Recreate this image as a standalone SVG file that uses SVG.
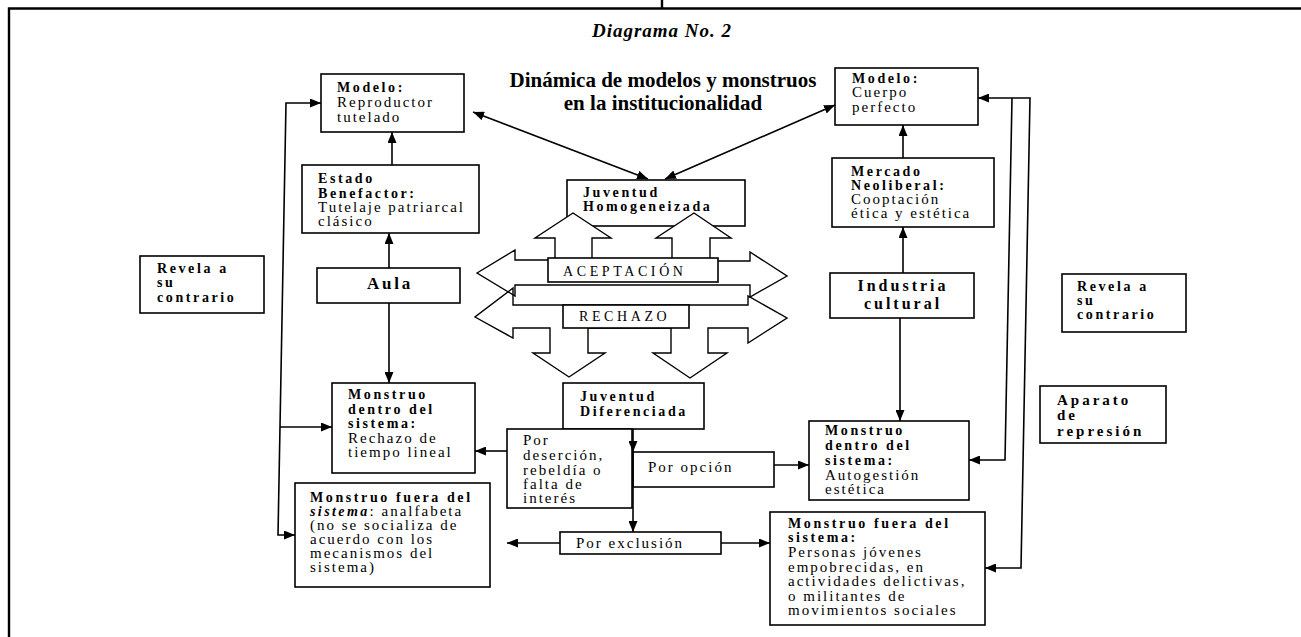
<svg xmlns="http://www.w3.org/2000/svg" width="1301" height="637" viewBox="0 0 1301 637">
<style>
.bg{fill:#fff}
.box{fill:#fff;stroke:#000;stroke-width:1.6}
.frame{fill:none;stroke:#000;stroke-width:2.4}
.c{fill:none;stroke:#000;stroke-width:1.6}
.blk{stroke:#000;stroke-width:1.4;stroke-linejoin:miter}
text{font-family:"Liberation Serif","Times New Roman",serif;fill:#000}
.t{font-size:15px;letter-spacing:2px}
.b{font-size:14px;font-weight:bold;letter-spacing:2.6px}
.bi{font-size:14px;font-weight:bold;font-style:italic;letter-spacing:2.4px}
.big{font-size:16px;font-weight:bold;letter-spacing:3px}
.aula{font-size:17px;font-weight:bold;letter-spacing:2.8px}
.ap{font-size:15px;font-weight:bold;letter-spacing:3px}
.cap{font-size:14px;letter-spacing:3.6px}
.title{font-size:19px;font-weight:bold;font-style:italic;letter-spacing:1px}
.sub{font-size:21px;font-weight:bold}
</style>
<defs>
<marker id="ah" viewBox="0 0 10 10" refX="10" refY="5" markerWidth="11" markerHeight="9" markerUnits="userSpaceOnUse" orient="auto-start-reverse" preserveAspectRatio="none">
<path d="M0,0 L10,5 L0,10 z" fill="#000"/>
</marker>
</defs>
<rect class="bg" x="0" y="0" width="1301" height="637"/>

<g id="frame">
<path class="frame" d="M9,637 L9,8.5 L1301,8.5"/>
<path class="frame" d="M662,0 L662,8.5"/>
</g>

<g id="title">
<text class="title" x="662" y="37" text-anchor="middle">Diagrama No. 2</text>
<text class="sub" x="663" y="87" text-anchor="middle">Dinámica de modelos y monstruos</text>
<text class="sub" x="663" y="110" text-anchor="middle">en la institucionalidad</text>
</g>

<g id="node-juventud-homogeneizada">
<rect class="box" x="567" y="180" width="178" height="46"/>
<text class="b" x="583" y="197">Juventud</text>
<text class="b" x="583" y="211">Homogeneizada</text>
</g>

<g id="block-arrows">
<path class="blk" fill="#fff" d="M477,273 L515,250 L515,260 L555,260 L555,238 L535,238 L573,213 L611,238 L592,238 L592,260 L672,260 L672,238 L656,238 L694,213 L731,238 L710,238 L710,261 L750,261 L750,252 L787,276 L750,297 L750,285 L515,285 L515,296 Z"/>
<path class="blk" fill="none" d="M513,288 L475,317 L513,338 L513,328 L550,328 L550,353 L533,353 L569,377 L605,353 L588,353 L588,328 L671,328 L671,353 L653,353 L690,378 L727,353 L708,353 L708,328 L748,328 L748,343 L787,318 L748,296 L748,305 L513,305 Z"/>
</g>

<g id="node-aceptacion">
<rect class="box" x="548" y="258" width="170" height="24"/>
<text class="cap" x="563" y="276">ACEPTACIÓN</text>
</g>

<g id="node-rechazo">
<rect class="box" x="563" y="305" width="126" height="23"/>
<text class="cap" x="579" y="321">RECHAZO</text>
</g>

<g id="node-modelo-reproductor">
<rect class="box" x="321" y="74" width="143" height="58"/>
<text class="b" x="337" y="92">Modelo:</text>
<text class="t" x="337" y="107">Reproductor</text>
<text class="t" x="337" y="122">tutelado</text>
</g>

<g id="node-estado-benefactor">
<rect class="box" x="302" y="165" width="177" height="68"/>
<text class="b" x="318" y="183">Estado</text>
<text class="b" x="318" y="198">Benefactor:</text>
<text class="t" x="318" y="212">Tutelaje patriarcal</text>
<text class="t" x="318" y="226">clásico</text>
</g>

<g id="node-aula">
<rect class="box" x="317" y="268" width="143" height="35"/>
<text class="aula" x="390" y="289" text-anchor="middle">Aula</text>
</g>

<g id="node-revela-izq">
<rect class="box" x="140" y="256" width="124" height="57"/>
<text class="b" x="157" y="273">Revela a</text>
<text class="b" x="157" y="287">su</text>
<text class="b" x="157" y="302">contrario</text>
</g>

<g id="node-monstruo-dentro-izq">
<rect class="box" x="332" y="383" width="143" height="90"/>
<text class="b" x="348" y="399">Monstruo</text>
<text class="b" x="348" y="414">dentro del</text>
<text class="b" x="348" y="428">sistema:</text>
<text class="t" x="348" y="443">Rechazo de</text>
<text class="t" x="348" y="457">tiempo lineal</text>
</g>

<g id="node-monstruo-fuera-izq">
<rect class="box" x="295" y="483" width="195" height="104"/>
<text class="b" x="310" y="502">Monstruo fuera del</text>
<text x="310" y="516"><tspan class="bi">sistema</tspan><tspan class="t">: analfabeta</tspan></text>
<text class="t" x="310" y="530">(no se socializa de</text>
<text class="t" x="310" y="544">acuerdo con los</text>
<text class="t" x="310" y="558">mecanismos del</text>
<text class="t" x="310" y="572">sistema)</text>
</g>

<g id="node-juventud-diferenciada">
<rect class="box" x="563" y="383" width="141" height="46"/>
<text class="b" x="580" y="401">Juventud</text>
<text class="b" x="580" y="416">Diferenciada</text>
</g>

<g id="node-por-desercion">
<rect class="box" x="507" y="429" width="125" height="79"/>
<text class="t" x="523" y="445">Por</text>
<text class="t" x="523" y="460">deserción,</text>
<text class="t" x="523" y="475">rebeldía o</text>
<text class="t" x="523" y="489">falta de</text>
<text class="t" x="523" y="503">interés</text>
</g>

<g id="node-por-opcion">
<rect class="box" x="633" y="452" width="141" height="35"/>
<text class="t" x="648" y="472">Por opción</text>
</g>

<g id="node-por-exclusion">
<rect class="box" x="560" y="532" width="161" height="22"/>
<text class="t" x="576" y="548">Por exclusión</text>
</g>

<g id="node-modelo-cuerpo">
<rect class="box" x="835" y="68" width="143" height="57"/>
<text class="b" x="852" y="83">Modelo:</text>
<text class="t" x="852" y="97">Cuerpo</text>
<text class="t" x="852" y="112">perfecto</text>
</g>

<g id="node-mercado-neoliberal">
<rect class="box" x="832" y="158" width="162" height="69"/>
<text class="b" x="851" y="176">Mercado</text>
<text class="b" x="851" y="190">Neoliberal:</text>
<text class="t" x="851" y="204">Cooptación</text>
<text class="t" x="851" y="218">ética y estética</text>
</g>

<g id="node-industria-cultural">
<rect class="box" x="830" y="273" width="144" height="45"/>
<text class="big" x="903" y="291" text-anchor="middle">Industria</text>
<text class="big" x="903" y="309" text-anchor="middle">cultural</text>
</g>

<g id="node-monstruo-dentro-der">
<rect class="box" x="809" y="421" width="160" height="79"/>
<text class="b" x="825" y="435">Monstruo</text>
<text class="b" x="825" y="450">dentro del</text>
<text class="b" x="825" y="465">sistema:</text>
<text class="t" x="825" y="480">Autogestión</text>
<text class="t" x="825" y="494">estética</text>
</g>

<g id="node-monstruo-fuera-der">
<rect class="box" x="770" y="512" width="215" height="113"/>
<text class="b" x="788" y="528">Monstruo fuera del</text>
<text class="b" x="788" y="542">sistema:</text>
<text class="t" x="788" y="557">Personas jóvenes</text>
<text class="t" x="788" y="572">empobrecidas, en</text>
<text class="t" x="788" y="586">actividades delictivas,</text>
<text class="t" x="788" y="601">o militantes de</text>
<text class="t" x="788" y="615">movimientos sociales</text>
</g>

<g id="node-revela-der">
<rect class="box" x="1062" y="274" width="124" height="58"/>
<text class="b" x="1077" y="291">Revela a</text>
<text class="b" x="1077" y="305">su</text>
<text class="b" x="1077" y="319">contrario</text>
</g>

<g id="node-aparato">
<rect class="box" x="1040" y="386" width="126" height="57"/>
<text class="ap" x="1057" y="405">Aparato</text>
<text class="ap" x="1057" y="420">de</text>
<text class="ap" x="1057" y="436">represión</text>
</g>

<g id="connectors">
<line class="c" x1="392" y1="165" x2="392" y2="132" marker-end="url(#ah)"/>
<line class="c" x1="389" y1="268" x2="389" y2="233" marker-end="url(#ah)"/>
<line class="c" x1="389" y1="303" x2="389" y2="383" marker-end="url(#ah)"/>
<path class="c" d="M321,103 L286,103 L278,535 L295,535" marker-start="url(#ah)" marker-end="url(#ah)"/>
<line class="c" x1="280" y1="427" x2="332" y2="427" marker-end="url(#ah)"/>
<line class="c" x1="473" y1="112" x2="648" y2="179" marker-start="url(#ah)" marker-end="url(#ah)"/>
<line class="c" x1="665" y1="179" x2="835" y2="105" marker-start="url(#ah)" marker-end="url(#ah)"/>
<line class="c" x1="903" y1="158" x2="903" y2="125" marker-end="url(#ah)"/>
<line class="c" x1="903" y1="273" x2="903" y2="227" marker-end="url(#ah)"/>
<line class="c" x1="900" y1="318" x2="900" y2="421" marker-end="url(#ah)"/>
<path class="c" d="M978,98 L1030,98 L1021,568 L985,568" marker-start="url(#ah)" marker-end="url(#ah)"/>
<path class="c" d="M1012,98 L1005,460 L969,460" marker-end="url(#ah)"/>
<line class="c" x1="633" y1="429" x2="633" y2="452" marker-end="url(#ah)"/>
<line class="c" x1="633" y1="452" x2="633" y2="532" marker-end="url(#ah)"/>
<line class="c" x1="507" y1="451" x2="475" y2="451" marker-end="url(#ah)"/>
<line class="c" x1="774" y1="465" x2="809" y2="465" marker-end="url(#ah)"/>
<line class="c" x1="560" y1="543" x2="507" y2="543" marker-end="url(#ah)"/>
<line class="c" x1="721" y1="543" x2="770" y2="543" marker-end="url(#ah)"/>
</g>
</svg>
